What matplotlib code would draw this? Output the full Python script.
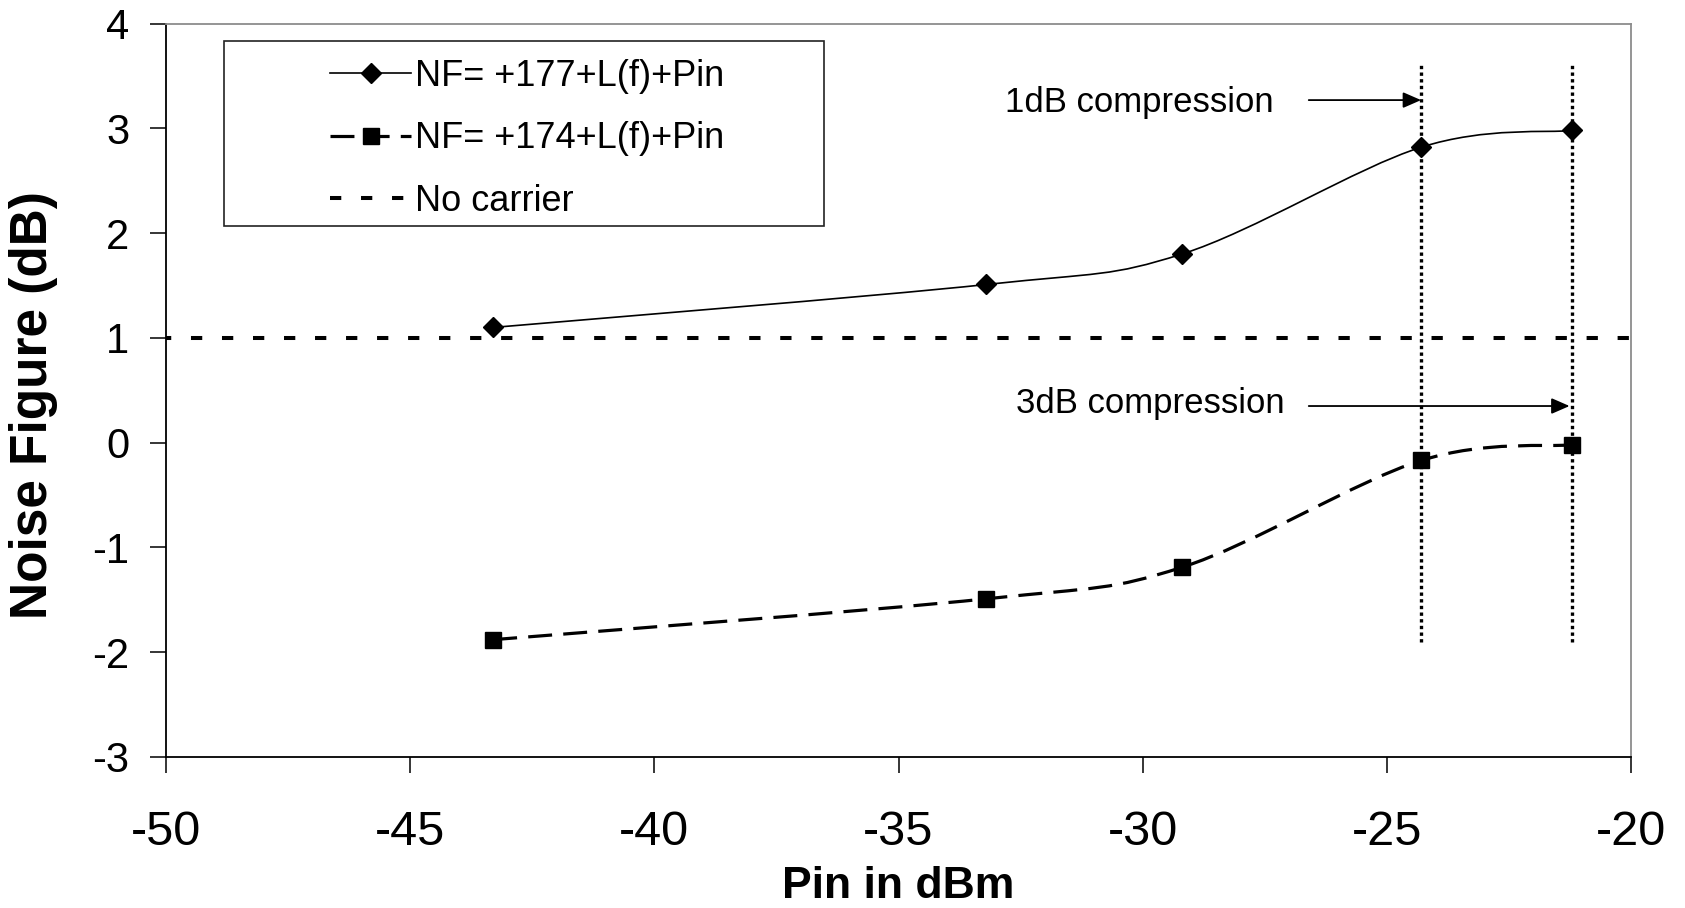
import matplotlib
matplotlib.use("Agg")
import matplotlib.pyplot as plt
from matplotlib import font_manager
from matplotlib.path import Path
from matplotlib.patches import PathPatch, Rectangle
from matplotlib.lines import Line2D

# ---- data ----
pin_dbm = [-43.3, -33.2, -29.2, -24.3, -21.2]
nf_177 = [1.10, 1.51, 1.80, 2.82, 2.98]
nf_174 = [-1.88, -1.49, -1.19, -0.17, -0.02]
no_carrier_nf = 1.0
compression_pin = [-24.3, -21.2]          # 1 dB and 3 dB compression points
compression_span = [-1.9, 3.62]
series_labels = ["NF= +177+L(f)+Pin", "NF= +174+L(f)+Pin", "No carrier"]
x_ticks = [-50, -45, -40, -35, -30, -25, -20]
y_ticks = [-3, -2, -1, 0, 1, 2, 3, 4]

# ---- fonts ----
def have(name):
    try:
        font_manager.findfont(font_manager.FontProperties(family=name), fallback_to_default=False)
        return True
    except Exception:
        return False

REG = "Liberation Sans" if have("Liberation Sans") else "DejaVu Sans"
NARROW = "Liberation Sans Narrow" if have("Liberation Sans Narrow") else REG
plt.rcParams["font.family"] = [REG, "DejaVu Sans"]

fig = plt.figure(figsize=(16.85, 9.08), dpi=100)
ax = fig.add_axes([0.0985, 0.1663, 0.8695, 0.8077])
ax.set_xlim(-50, -20)
ax.set_ylim(-3, 4)


def smooth_path(xs, ys):
    """Excel-style smoothed line: cubic Bezier segments through the data points."""
    pts = list(zip(xs, ys))
    n = len(pts)
    verts = [pts[0]]
    codes = [Path.MOVETO]
    for i in range(n - 1):
        p0 = pts[i - 1] if i > 0 else pts[i]
        p1 = pts[i]
        p2 = pts[i + 1]
        p3 = pts[i + 2] if i + 2 < n else pts[i + 1]
        c1 = (p1[0] + (p2[0] - p0[0]) / 6.0, p1[1] + (p2[1] - p0[1]) / 6.0)
        c2 = (p2[0] - (p3[0] - p1[0]) / 6.0, p2[1] - (p3[1] - p1[1]) / 6.0)
        verts += [c1, c2, p2]
        codes += [Path.CURVE4] * 3
    return Path(verts, codes)

# series 1: thin solid smoothed line with diamonds
ax.add_patch(PathPatch(smooth_path(pin_dbm, nf_177), fill=False, edgecolor="black",
                       lw=1.2, zorder=3))
ax.plot(pin_dbm, nf_177, linestyle="none", marker="D", markersize=10,
        color="black", zorder=4)

# series 2: dashed smoothed line with squares
p2 = PathPatch(smooth_path(pin_dbm, nf_174), fill=False, edgecolor="black",
               lw=2.3, zorder=3, capstyle="butt")
p2.set_linestyle((0, (7.5, 3.5)))
ax.add_patch(p2)
ax.plot(pin_dbm, nf_174, linestyle="none", marker="s", markersize=11.5,
        color="black", zorder=4)

# no-carrier reference
ax.axhline(no_carrier_nf, color="black", lw=2.9, linestyle=(1.5, (2.8, 4.9)),
           dash_capstyle="butt", zorder=2)

# compression markers
ax.vlines(compression_pin, compression_span[0], compression_span[1], colors="black",
          lw=2.4, linestyles=[(0, (1, 1))], zorder=2)

# annotations
arrow_kw = dict(arrowstyle="-|>,head_length=0.55,head_width=0.24", lw=1.3,
                color="black", mutation_scale=20, shrinkA=0, shrinkB=0)
ax.annotate("", xy=(compression_pin[0], 3.27), xytext=(-26.6, 3.27), arrowprops=arrow_kw)
ax.text(-32.83, 3.25, "1dB compression", fontsize=25, va="center", ha="left")
ax.annotate("", xy=(compression_pin[1] - 0.06, 0.35), xytext=(-26.6, 0.35), arrowprops=arrow_kw)
ax.text(-32.59, 0.37, "3dB compression", fontsize=25, va="center", ha="left")

# legend box and legend
ax.add_patch(Rectangle((0.0396, 0.724), 0.4096, 0.252, transform=ax.transAxes,
                       fill=False, edgecolor="#222222", lw=1.2, zorder=5))
handles = [
    Line2D([], [], color="black", lw=1.2, marker="D", markersize=10),
    Line2D([], [], color="black", lw=2.3, marker="s", markersize=11.5,
           linestyle=(0, (7.5, 3.5)), dash_capstyle="butt"),
    Line2D([], [], color="black", lw=2.9, linestyle=(0, (2.8, 4.9)),
           dash_capstyle="butt"),
]
leg = ax.legend(handles, series_labels, loc="center left",
                bbox_to_anchor=(0.112, 0.843), frameon=False, fontsize=26,
                handlelength=2.25, handletextpad=0.1, labelspacing=0.76,
                borderpad=0, borderaxespad=0)

# axes styling
for side in ("left", "bottom"):
    ax.spines[side].set_color("black")
    ax.spines[side].set_linewidth(1.3)
for side in ("top", "right"):
    ax.spines[side].set_color("#8c8c8c")
    ax.spines[side].set_linewidth(1.3)

ax.set_xticks(x_ticks)
ax.set_yticks(y_ticks)
ax.set_xticklabels([str(v) for v in x_ticks], fontfamily=NARROW, fontsize=35)
ax.set_yticklabels([str(v) for v in y_ticks], fontsize=30)
ax.tick_params(axis="x", direction="out", length=11.5, width=1.1, pad=27, color="black")
ax.tick_params(axis="y", direction="out", length=11.5, width=1.1, pad=15, color="black")

ax.set_xlabel("Pin in dBm", fontsize=32, fontweight="bold")
ax.xaxis.set_label_coords(0.5, -0.177)
ax.xaxis.label.set_va("center")
ax.set_ylabel("Noise Figure (dB)", fontsize=37, fontweight="bold")
ax.yaxis.set_label_coords(-0.0905, 0.48)
ax.yaxis.label.set_va("center")

fig.savefig("out.png", dpi=100)
